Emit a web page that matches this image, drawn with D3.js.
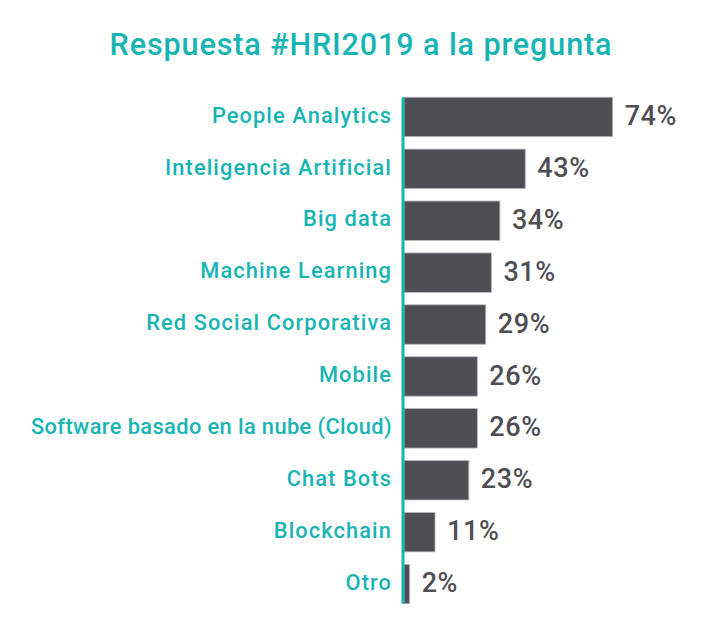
<!DOCTYPE html>
<html><head><meta charset="utf-8">
<script src="https://cdn.jsdelivr.net/npm/d3@7"></script>
<style>body{margin:0;background:#fff}</style>
</head><body>
<svg id="chart" width="721" height="634"></svg>
<script>
const categories = ["People Analytics","Inteligencia Artificial","Big data","Machine Learning","Red Social Corporativa","Mobile","Software basado en la nube (Cloud)","Chat Bots","Blockchain","Otro"];
const values = [74,43,34,31,29,26,26,23,11,2];
const valueLabels = ["74%","43%","34%","31%","29%","26%","26%","23%","11%","2%"];
const title = "Respuesta #HRI2019 a la pregunta";

const teal = "#17b4b4", bar = "#4e4e54";
const font = "Roboto, 'Noto Sans', sans-serif";
const weight = 500;
const svg = d3.select("#chart");

const x = d3.scaleLinear().domain([0,100]).range([404,686]);
const y = d3.scaleBand().domain(categories).range([91,610]).paddingInner(0.24).paddingOuter(0.12);

const t = svg.append("text").attr("x",361).attr("y",55).attr("text-anchor","middle")
  .attr("font-family",font).attr("font-weight",weight).attr("font-size",30.5).attr("fill",teal).text(title);
const tw = t.node().getComputedTextLength();
t.attr("letter-spacing", (502 - tw)/(title.length-1));

const data = categories.map((c,i)=>({c, v:values[i], l:valueLabels[i]}));

svg.selectAll("rect.bar").data(data).join("rect").attr("class","bar")
  .attr("x",x(0)).attr("y",d=>y(d.c)).attr("width",d=>x(d.v)-x(0)).attr("height",y.bandwidth())
  .attr("fill",bar).attr("stroke","#b8b8bc").attr("stroke-width",0.8);

svg.append("line").attr("x1",403).attr("x2",403)
  .attr("y1",y(categories[0])).attr("y2",y(categories[categories.length-1])+y.bandwidth())
  .attr("stroke",teal).attr("stroke-width",3);

const maxW = 361, ls = 1.1;
svg.selectAll("text.cat").data(data).join("text").attr("class","cat")
  .attr("x",392).attr("y",d=>y(d.c)+y.bandwidth()/2).attr("dy","0.26em")
  .attr("text-anchor","end").attr("font-family",font).attr("font-weight",weight).attr("font-size",21.8).attr("fill",teal)
  .attr("letter-spacing",ls)
  .text(d=>d.c)
  .each(function(d){
    const w = this.getComputedTextLength();
    if (w > maxW) d3.select(this).attr("letter-spacing", ls - (w - maxW)/d.c.length);
  });

svg.selectAll("text.val").data(data).join("text").attr("class","val")
  .attr("x",d=>x(d.v)+12).attr("y",d=>y(d.c)+y.bandwidth()/2).attr("dy","0.3em")
  .attr("font-family",font).attr("font-weight",weight).attr("font-size",27).attr("fill",bar)
  .attr("letter-spacing",0.6)
  .text(d=>d.l);
</script>
</body></html>
